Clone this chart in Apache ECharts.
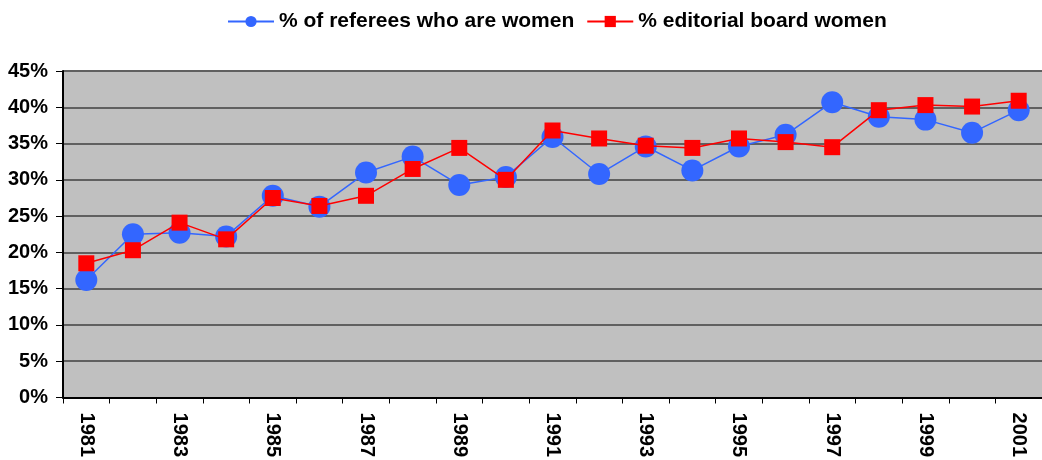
<!DOCTYPE html>
<html lang="en">
<head>
  <meta charset="UTF-8">
  <title>Women referees and editorial board</title>
  <style>
    * { margin: 0; padding: 0; }
    body { background: #ffffff; }
    #chart { width: 1042px; height: 460px; }
  </style>
</head>
<body>
  <div id="chart"></div>
  <script src="https://cdn.jsdelivr.net/npm/echarts@6/dist/echarts.min.js"></script>
  <script type="text/javascript">
  var years = ['1981', '1982', '1983', '1984', '1985', '1986', '1987', '1988', '1989', '1990', '1991',
               '1992', '1993', '1994', '1995', '1996', '1997', '1998', '1999', '2000', '2001'];
  var referees = [16.2, 22.5, 22.7, 22.2, 27.8, 26.3, 31.0, 33.2, 29.3, 30.4, 35.9,
                  30.8, 34.6, 31.3, 34.6, 36.2, 40.7, 38.7, 38.3, 36.5, 39.6];
  var editorial = [18.5, 20.3, 24.1, 21.8, 27.5, 26.4, 27.8, 31.5, 34.4, 30.0, 36.8,
                   35.7, 34.7, 34.4, 35.7, 35.2, 34.5, 39.6, 40.3, 40.1, 40.9];
  var yTicks = [0, 5, 10, 15, 20, 25, 30, 35, 40, 45];

  function main () {
    var chart = echarts.init(document.getElementById('chart'));
    var font = 'Liberation Sans, Arial, sans-serif';
    var option = {
      animation: false,
      legend: {
        top: 6,
        left: 222,
        itemWidth: 46,
        itemHeight: 14,
        itemGap: 12,
        textStyle: { fontFamily: font, fontWeight: 'bold', fontSize: 21, color: '#000' },
        data: ['% of referees who are women', '% editorial board women']
      },
      grid: {
        left: 63,
        top: 71,
        width: 988,
        bottom: 61,
        show: true,
        backgroundColor: '#c0c0c0',
        borderWidth: 0
      },
      xAxis: {
        type: 'category',
        data: years,
        boundaryGap: true,
        axisLine: { lineStyle: { color: '#000', width: 2 } },
        axisTick: { show: true, interval: 0, length: 6, lineStyle: { color: '#000', width: 1 } },
        axisLabel: { interval: 1, rotate: -90, margin: 15, fontFamily: font, fontWeight: 'bold', fontSize: 20, color: '#000' }
      },
      yAxis: {
        type: 'value',
        min: yTicks[0],
        max: yTicks[yTicks.length - 1],
        interval: 5,
        axisLine: { show: true, lineStyle: { color: '#000', width: 2 } },
        axisTick: { show: true, length: 7, lineStyle: { color: '#000', width: 1 } },
        splitLine: { show: true, lineStyle: { color: '#606060', width: 2 } },
        axisLabel: { margin: 15, formatter: '{value}%', fontFamily: font, fontWeight: 'bold', fontSize: 20, color: '#000' }
      },
      series: [{
        name: '% of referees who are women',
        type: 'line',
        data: referees,
        symbol: 'circle',
        symbolSize: 22,
        itemStyle: { color: '#3366ff' },
        lineStyle: { color: '#3366ff', width: 1.5 },
        z: 2
      }, {
        name: '% editorial board women',
        type: 'line',
        data: editorial,
        symbol: 'rect',
        symbolSize: 16,
        itemStyle: { color: '#ff0000' },
        lineStyle: { color: '#ff0000', width: 1.5 },
        z: 3
      }]
    };
    chart.setOption(option);
  }

  window.addEventListener('load', main);
  </script>
</body>
</html>
